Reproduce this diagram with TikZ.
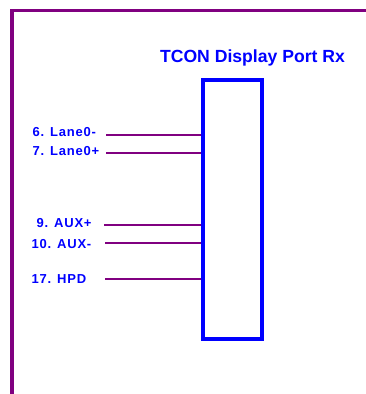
\documentclass[tikz,border=0pt]{standalone}
\usepackage{fontspec}
\setmainfont{Liberation Sans}
\newfontfamily\lblfont[LetterSpace=6]{Liberation Sans}
\definecolor{dpurple}{HTML}{800080}
\definecolor{dblue}{HTML}{0000FF}
\begin{document}
\begin{tikzpicture}[x=1pt,y=-1pt,
  frame/.style={draw=dpurple,line width=3.5pt},
  wire/.style={draw=dpurple,line width=1.8pt},
  chip/.style={draw=dblue,line width=4pt,minimum width=59pt,minimum height=259pt,inner sep=0pt},
  pinlbl/.style={text=dblue,font=\lblfont\bfseries\fontsize{13}{15}\selectfont,anchor=base west,inner sep=0pt},
  titlelbl/.style={text=dblue,font=\bfseries\fontsize{17.6}{20}\selectfont,anchor=base,inner sep=0pt}]
\useasboundingbox (0,0) rectangle (365,394);
\fill[white] (0,0) rectangle (365,394);
\draw[frame] (12,400) -- (12,10.5) -- (370,10.5);
\node[chip] (rx) at (232.5,209.5) {};
\node[titlelbl] (title) at (252.5,62.3) {TCON Display Port Rx};
\node[pinlbl] (l1) at (32.5,136.5) {6. Lane0-};
\node[pinlbl] (l2) at (32.5,155) {7. Lane0+};
\node[pinlbl] (l3) at (36.5,227) {9. AUX+};
\node[pinlbl] (l4) at (31.5,248.5) {10. AUX-};
\node[pinlbl] (l5) at (31.5,283.5) {17. HPD};
\coordinate (s1) at (106,135);
\coordinate (s2) at (106,153);
\coordinate (s3) at (104,225);
\coordinate (s4) at (105,243);
\coordinate (s5) at (105,279);
\foreach \s in {s1,s2,s3,s4,s5}{\draw[wire] (\s) -- (\s -| rx.west);}
\end{tikzpicture}
\end{document}
